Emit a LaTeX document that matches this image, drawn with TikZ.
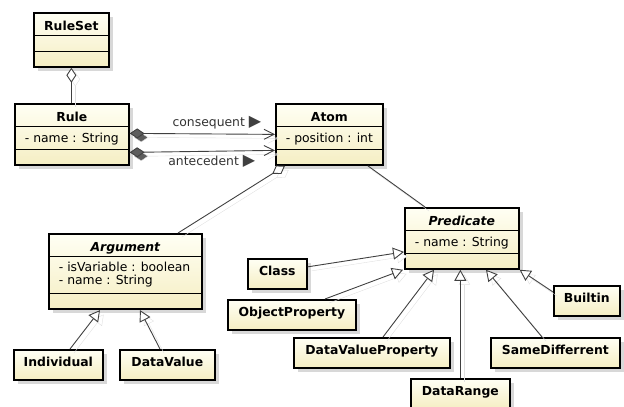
\documentclass[tikz,border=0pt]{standalone}
\usepackage{fontspec}
\setmainfont{DejaVu Sans}
\usetikzlibrary{positioning,shapes.multipart,shadows,arrows.meta}

\definecolor{umltop}{RGB}{255,255,244}
\definecolor{umlbot}{RGB}{245,238,195}
\definecolor{umlline}{RGB}{64,64,64}

% compartment contents with fixed height
\newcommand{\ctitle}[1]{\rule{0pt}{12.5pt}\smash{\bfseries #1}}
\newcommand{\cattr}[1]{\rule[-1.75pt]{0pt}{12.5pt}\smash{#1}}
\newcommand{\rolearrow}{\textcolor{umlline}{\fontsize{16}{16}\selectfont ▶}}

\begin{document}
\begin{tikzpicture}[x=1pt,y=-1pt,
    font=\fontsize{12.4}{14.5}\selectfont,
    umlbox/.style={draw=black,line width=1.7pt,top color=umltop,bottom color=umlbot,
      drop shadow={shadow xshift=4pt,shadow yshift=-4pt,fill=black!30,opacity=.5},
      anchor=north west},
    umlclass/.style={umlbox,rectangle split,rectangle split parts=3,
      rectangle split draw splits=false,rectangle split part align={center,left,left},
      rectangle split empty part height=2pt,rectangle split empty part depth=0pt,
      inner ysep=4.25pt,inner xsep=10pt},
    leaf/.style={umlbox,minimum height=30pt,text height=9pt,text depth=5pt,
      font=\fontsize{12.4}{14.5}\selectfont\bfseries},
    link/.style={draw=umlline,line width=0.9pt,
      preaction={draw=black!12,transform canvas={xshift=4pt,yshift=-4pt}}},
    agg/.style={link,{Diamond[length=15pt,width=10pt,fill=white]}-},
    comp/.style={link,{Diamond[length=15pt,width=10pt,fill=umlline!85]}-{Straight Barb[length=10pt,width=10pt]}},
    gen/.style={link,-{Triangle[length=11pt,width=12pt,fill=white]}},
  ]
  \useasboundingbox (0,0) rectangle (624,407);

  % classes
  \node[umlclass,minimum width=75pt] (ruleset) at (33,12)
    {\ctitle{RuleSet}\nodepart{two}\nodepart{three}};
  \node[umlclass,minimum width=113pt] (rule) at (14,103)
    {\ctitle{Rule}\nodepart{two}\cattr{- name : String}\nodepart{three}};
  \node[umlclass,minimum width=107pt] (atom) at (275,103)
    {\ctitle{Atom}\nodepart{two}\cattr{- position : int}\nodepart{three}};
  \node[umlclass,minimum width=113pt] (predicate) at (404,207)
    {\ctitle{\itshape Predicate}\nodepart{two}\cattr{- name : String}\nodepart{three}};
  \node[umlclass,minimum width=153pt] (argument) at (48,233)
    {\ctitle{\itshape Argument}\nodepart{two}\renewcommand{\arraystretch}{0.92}%
     \begin{tabular}{@{}l@{}}- isVariable : boolean\\- name : String\end{tabular}\nodepart{three}};

  % compartment lines
  \foreach \c in {ruleset,rule,atom,predicate,argument} {
    \draw[line width=0.9pt] (\c.text split west) -- (\c.text split east);
    \draw[line width=0.9pt] (\c.two split west) -- (\c.two split east);
  }

  \node[leaf,minimum width=89pt] (individual) at (13,349) {Individual};
  \node[leaf,minimum width=95pt] (datavalue) at (119,349) {DataValue};
  \node[leaf,minimum width=59pt] (class) at (247,258) {Class};
  \node[leaf,minimum width=128pt] (objprop) at (227,299) {ObjectProperty};
  \node[leaf,minimum width=156pt] (dvprop) at (293,337) {DataValueProperty};
  \node[leaf,minimum width=99pt] (datarange) at (410,378) {DataRange};
  \node[leaf,minimum width=129pt] (samediff) at (490,337) {SameDifferrent};
  \node[leaf,minimum width=66pt] (builtin) at (553,285) {Builtin};

  % associations
  \draw[agg] (ruleset.south) -- (ruleset.south |- rule.north);
  \path ([yshift=1pt]rule.east) edge[comp] node[above=1pt,pos=0.6,text=black!80]
      {consequent \rolearrow} ([yshift=0pt]atom.west)
    ([yshift=-18pt]rule.east) edge[comp] node[below=0pt,pos=0.565,text=black!80]
      {antecedent \rolearrow} ([yshift=-16pt]atom.west);
  \draw[agg] ([xshift=10pt]atom.south west) -- ([xshift=130pt]argument.north west);
  \draw[link] ([xshift=-16pt]atom.south east) -- ([xshift=21pt]predicate.north west);

  % generalizations
  \draw[gen] ([xshift=57pt]individual.north west) -- ([xshift=52pt]argument.south west);
  \draw[gen] ([xshift=41pt]datavalue.north west) -- ([xshift=92pt]argument.south west);
  \draw[gen] ([yshift=7pt]class.east) -- ([yshift=-13.5pt]predicate.west);
  \draw[gen] ([xshift=98pt]objprop.north west) -- ([xshift=-1pt]predicate.south west);
  \draw[gen] ([xshift=90pt]dvprop.north west) -- ([xshift=30pt]predicate.south west);
  \draw[gen] (datarange.north) -- (datarange.north |- predicate.south);
  \draw[gen] ([xshift=52pt]samediff.north west) -- ([xshift=82pt]predicate.south west);
  \draw[gen] ([yshift=-7pt]builtin.north west) -- (predicate.south east);
\end{tikzpicture}
\end{document}
